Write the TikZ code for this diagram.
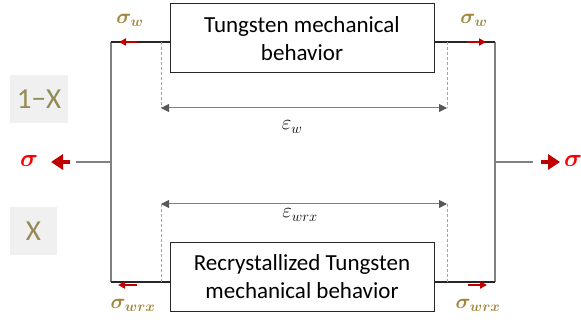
\documentclass[tikz,border=0pt]{standalone}
\usepackage{fontspec}
\setmainfont{Carlito}
\usepackage{bm}
\usetikzlibrary{arrows.meta}

\definecolor{olivetext}{HTML}{948A54}
\definecolor{goldlabel}{HTML}{A0873C}
\definecolor{darkred}{HTML}{C00000}

\begin{document}
\begin{tikzpicture}[x=1pt, y=-1pt,
	behbox/.style={draw=black!85, line width=1pt, minimum width=264pt, minimum height=69pt, inner sep=0pt, align=center, font=\fontsize{23}{28}\selectfont},
	fracbox/.style={fill=black!6, minimum height=48pt, inner sep=0pt, text=olivetext, font=\fontsize{29}{29}\selectfont},
	sidewire/.style={draw=black!50, line width=1.3pt},
	boxwire/.style={draw=black!85, line width=1.3pt},
	guide/.style={draw=black!35, line width=0.8pt, dash pattern=on 3pt off 2pt},
	strainarrow/.style={draw=black!50, line width=1pt, {Triangle[length=8pt,width=8pt,color=black!65]}-{Triangle[length=8pt,width=8pt,color=black!65]}},
	stressarrow/.style={draw=darkred, line width=1.8pt, -{Triangle[length=7pt,width=7pt]}},
	loadarrow/.style={draw=darkred, line width=4pt, -{Triangle[length=12pt,width=15pt]}},
	stresslabel/.style={text=goldlabel, font=\fontsize{21}{21}\selectfont},
	strainlabel/.style={font=\fontsize{21}{21}\selectfont},
	loadlabel/.style={text=red, font=\fontsize{23}{23}\selectfont}
]
	%%%%% START %%%%%
	\useasboundingbox (0,0) rectangle (581,323);

	\node[behbox] (wbox) at (302,38.5) {Tungsten mechanical\\behavior};
	\node[behbox] (rxbox) at (302,277) {Recrystallized Tungsten\\mechanical behavior};

	\coordinate (tl) at (111,42);
	\coordinate (tr) at (495,42);
	\coordinate (bl) at (111,282);
	\coordinate (br) at (495,282);

	% parallel branches
	\draw[sidewire] (tl) -- (bl);
	\draw[sidewire] (tr) -- (br);
	\draw[boxwire] (tl) -- (wbox.west |- tl);
	\draw[boxwire] (wbox.east |- tr) -- (tr);
	\draw[boxwire] (bl) -- (rxbox.west |- bl);
	\draw[boxwire] (rxbox.east |- br) -- (br);

	% strains
	\coordinate (ewl) at (161,108);
	\coordinate (ewr) at (447,108);
	\coordinate (erxl) at (161,204);
	\coordinate (erxr) at (447,204);
	\draw[guide] (ewl |- tl) -- (ewl);
	\draw[guide] (ewr |- tr) -- (ewr);
	\draw[guide] (erxl |- bl) -- (erxl);
	\draw[guide] (erxr |- br) -- (erxr);
	\draw[strainarrow] (ewl) -- (ewr);
	\draw[strainarrow] (erxl) -- (erxr);
	\node[strainlabel] (epsw) at (292,127) {$\varepsilon_w$};
	\node[strainlabel] (epsrx) at (300,215) {$\varepsilon_{wrx}$};

	% branch stresses
	\draw[stressarrow] (137,42) -- (119,42);
	\draw[stressarrow] (467,42) -- (486,42);
	\draw[stressarrow] (137,285) -- (118,285);
	\draw[stressarrow] (468,285) -- (487,285);
	\node[stresslabel] (sw1) at (130,20) {$\bm{\sigma_w}$};
	\node[stresslabel] (sw2) at (474,20) {$\bm{\sigma_w}$};
	\node[stresslabel] (srx1) at (133,305) {$\bm{\sigma_{wrx}}$};
	\node[stresslabel] (srx2) at (478,305) {$\bm{\sigma_{wrx}}$};

	% applied stress
	\coordinate (ml) at (111,162);
	\coordinate (mr) at (495,162);
	\coordinate (mlo) at (76,162);
	\coordinate (mro) at (533,162);
	\draw[sidewire] (ml) -- (mlo);
	\draw[sidewire] (mr) -- (mro);
	\node[loadlabel] (sigl) at (29,161) {$\bm{\sigma}$};
	\node[loadlabel] (sigr) at (573,161) {$\bm{\sigma}$};
	\draw[loadarrow] (70,162) -- (51,162);
	\draw[loadarrow] (541,162) -- (560,162);

	% volume fractions
	\node[fracbox, minimum width=58pt] (fw) at (39,99) {1−X};
	\node[fracbox, minimum width=47pt] (frx) at (33.5,231) {X};

	%%%%% END %%%%%
\end{tikzpicture}
\end{document}
